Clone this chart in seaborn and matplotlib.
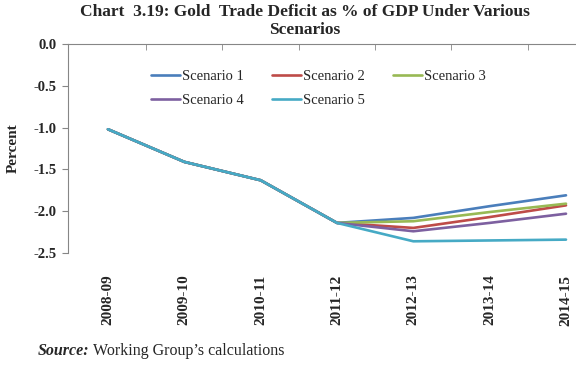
import pandas as pd
import matplotlib.pyplot as plt
import seaborn as sns

# dados
anos = ['2008-09', '2009-10', '2010-11', '2011-12', '2012-13', '2013-14', '2014-15']
cenario1 = [-1.02, -1.41, -1.63, -2.14, -2.08, -1.94, -1.81]
cenario2 = [-1.02, -1.41, -1.63, -2.14, -2.20, -2.07, -1.93]
cenario3 = [-1.02, -1.41, -1.63, -2.14, -2.12, -2.01, -1.91]
cenario4 = [-1.02, -1.41, -1.63, -2.14, -2.24, -2.14, -2.03]
cenario5 = [-1.02, -1.41, -1.63, -2.14, -2.36, -2.35, -2.34]
nomes = ['Scenario 1', 'Scenario 2', 'Scenario 3', 'Scenario 4', 'Scenario 5']
cores = ['#4A7EBB', '#BE4B48', '#98B954', '#7D60A0', '#46AAC5']

series = [cenario1, cenario2, cenario3, cenario4, cenario5]
linhas = []
for nome, vals in zip(nomes, series):
    for a, v in zip(anos, vals):
        linhas.append({'Ano': a, 'Valor': v, 'Cenario': nome})
df = pd.DataFrame(linhas)

sns.set_style('white')
plt.rcParams['font.family'] = ['Liberation Serif', 'DejaVu Serif']

fig = plt.figure(figsize=(5.76, 3.66), dpi=100)
ax = fig.add_axes([68 / 576, 1 - 253 / 366, 1 - 68 / 576, 209 / 366])

sns.lineplot(data=df, x='Ano', y='Valor', hue='Cenario', hue_order=nomes,
             palette=cores, linewidth=1.9, ax=ax, sort=False)

ax.set_xlim(-0.524, 6.131)
ax.set_ylim(-2.5, 0.0)
ax.set_yticks([0.0, -0.5, -1.0, -1.5, -2.0, -2.5])
ax.set_yticklabels(['0.0', '-0.5', '-1.0', '-1.5', '-2.0', '-2.5'],
                   fontsize=10.5, fontweight='bold')
ax.set_xticks(range(len(anos)))
ax.set_xticklabels(anos, rotation=90, fontsize=11, fontweight='bold')
ax.set_xticks([i + 0.5 for i in range(len(anos) - 1)], minor=True)
ax.tick_params(axis='x', which='major', bottom=False, top=False, pad=12)
ax.tick_params(axis='x', which='minor', top=True, bottom=False,
               direction='in', length=4, color='#868686')
ax.tick_params(axis='y', left=True, length=4, color='#868686', pad=4)

for lado in ['right', 'bottom']:
    ax.spines[lado].set_visible(False)
for lado in ['left', 'top']:
    ax.spines[lado].set_color('#868686')
    ax.spines[lado].set_linewidth(0.8)

ax.set_xlabel('')
ax.set_ylabel('Percent', fontsize=11, fontweight='bold', labelpad=10)

# ordem da legenda por linhas (matplotlib preenche por colunas)
h, l = ax.get_legend_handles_labels()
ordem = [0, 3, 1, 4, 2]
ax.legend([h[i] for i in ordem], [l[i] for i in ordem], title=None,
          frameon=False, ncol=3, fontsize=10.5,
          loc='upper left', bbox_to_anchor=(151 / 576, 1 - 70 / 366),
          bbox_transform=fig.transFigure, handlelength=2.0,
          handletextpad=0.15, columnspacing=1.9, labelspacing=0.75,
          borderpad=0, borderaxespad=0)

fig.text(305 / 576, 1 - 4 / 366,
         'Chart  3.19: Gold  Trade Deficit as % of GDP Under Various\nScenarios',
         ha='center', va='top', fontsize=12.5, fontweight='bold', linespacing=1.15)
fig.text(38 / 576, 1 - 351 / 366, 'Source:', fontsize=11.5, va='center',
         fontweight='bold', fontstyle='italic')
fig.text(93 / 576, 1 - 351 / 366, 'Working Group\u2019s calculations',
         fontsize=11.5, va='center')

fig.savefig('out.png', dpi=100)
